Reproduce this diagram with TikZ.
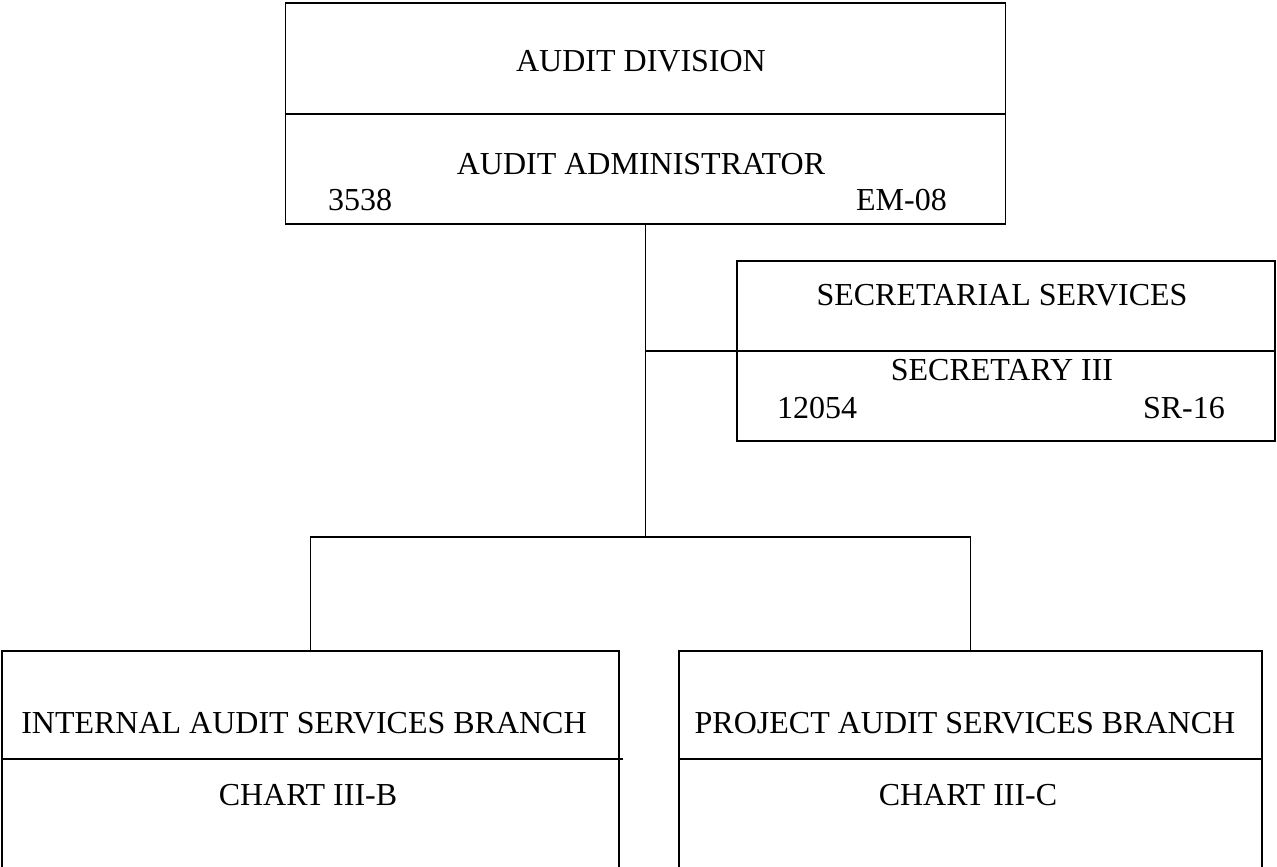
\documentclass[tikz,border=0pt]{standalone}
\usepackage{fontspec}
\setmainfont{Liberation Serif}
\begin{document}
\begin{tikzpicture}[x=1pt,y=-1pt,
  box/.style={draw=black,line width=1.7pt,rectangle,inner sep=0pt},
  conn/.style={draw=black,line width=1.7pt},
  lbl/.style={inner sep=0pt,font=\fontsize{32}{38}\selectfont}]
\useasboundingbox (0,0) rectangle (1277,867);
% boxes
\node[box,minimum width=720pt,minimum height=221pt] (top) at (645.5,113.5) {};
\node[box,minimum width=538pt,minimum height=180pt] (sec) at (1006,351) {};
\node[box,minimum width=617pt,minimum height=217pt] (lb) at (310.5,759.5) {};
\node[box,minimum width=583pt,minimum height=217pt] (rb) at (970.5,759.5) {};
% dividers
\draw[conn] (top.west |- 0,114) -- (top.east |- 0,114);
\draw[conn] (sec.west) -- (sec.east);
\draw[conn] (lb.west |- 0,759) -- ([xshift=3pt]lb.east |- 0,759);
\draw[conn] (rb.west |- 0,759) -- (rb.east |- 0,759);
% connectors
\coordinate (jct) at (645.5,537);
\draw[conn] (top.south) -- (jct);
\draw[conn] (sec.west) -- (sec.west -| jct);
\draw[conn] (jct) -| (lb.north);
\draw[conn] (jct) -| (rb.north);
% texts
\node[lbl,anchor=base] (t1) at (641,72) {AUDIT DIVISION};
\node[lbl,anchor=base] (t2) at (641,174) {AUDIT ADMINISTRATOR};
\node[lbl,anchor=base west] (t3) at (328,210) {3538};
\node[lbl,anchor=base east] (t4) at (947,210) {EM-08};
\node[lbl,anchor=base] (s1) at (1002,305) {SECRETARIAL SERVICES};
\node[lbl,anchor=base] (s2) at (1002,380) {SECRETARY III};
\node[lbl,anchor=base west] (s3) at (777,418) {12054};
\node[lbl,anchor=base east] (s4) at (1225,418) {SR-16};
\node[lbl,anchor=base] (l1) at (304,733) {INTERNAL AUDIT SERVICES BRANCH};
\node[lbl,anchor=base] (l2) at (308,805) {CHART III-B};
\node[lbl,anchor=base] (r1) at (965,733) {PROJECT AUDIT SERVICES BRANCH};
\node[lbl,anchor=base] (r2) at (968,805) {CHART III-C};
\end{tikzpicture}
\end{document}
